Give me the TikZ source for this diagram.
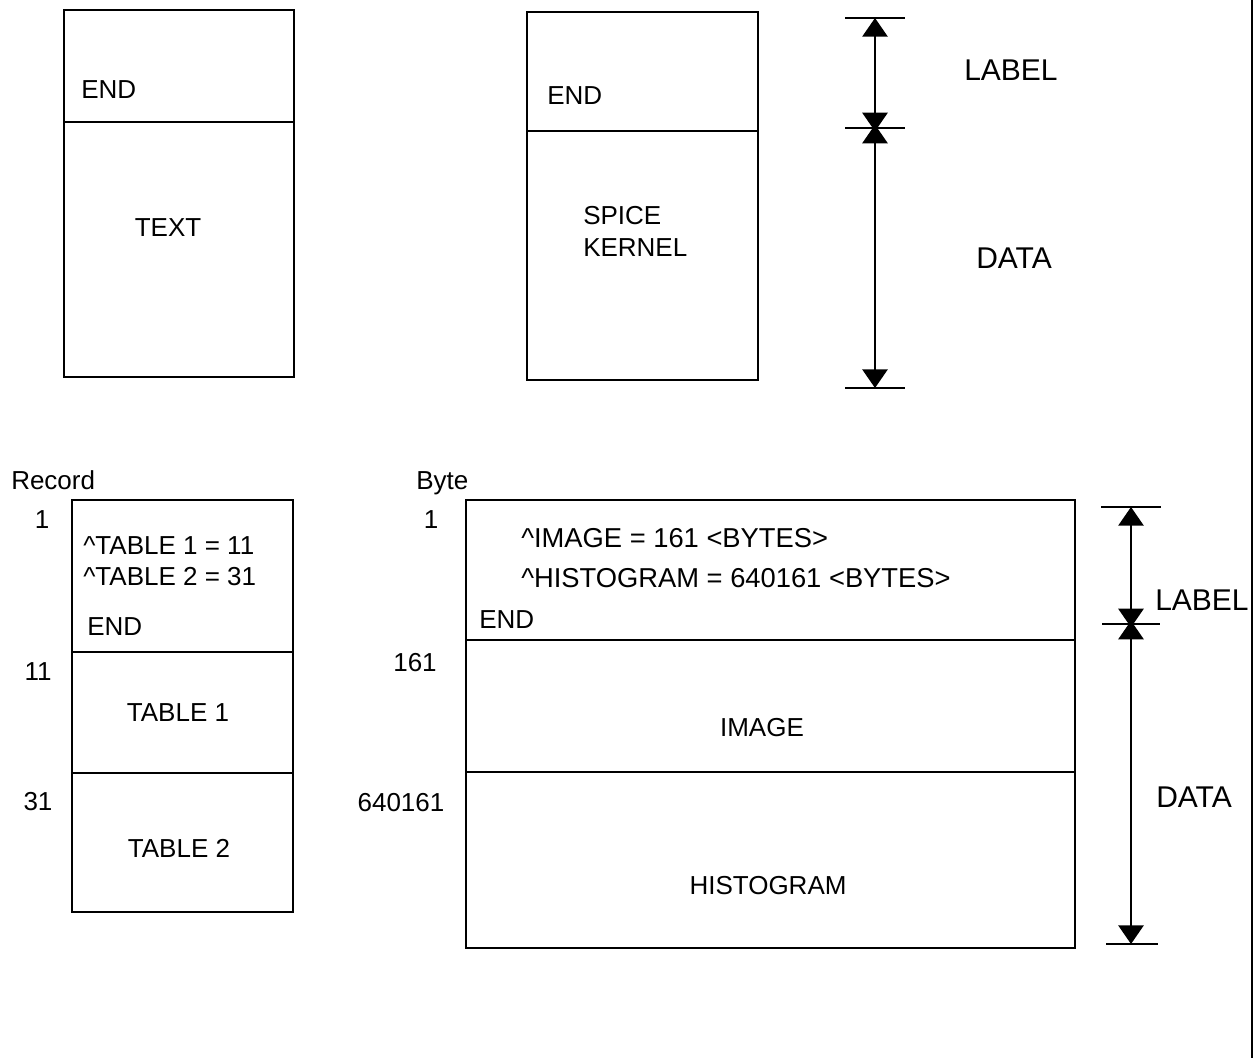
\documentclass[tikz,border=0pt]{standalone}
\usepackage{fontspec}
\setmainfont{Liberation Sans}
\usetikzlibrary{arrows.meta}

\begin{document}
\begin{tikzpicture}[x=0.75pt,y=0.75pt,yscale=-1,xscale=1,
  txt/.style={inner sep=0.75pt,font=\fontsize{19.5}{24}\selectfont},
  ptrtxt/.style={inner sep=0.75pt,font=\fontsize{20.5}{24}\selectfont},
  bigtxt/.style={inner sep=0.75pt,font=\fontsize{22.5}{26}\selectfont},
  boxline/.style={line width=1.4pt},
  tickline/.style={line width=1.2pt},
  dimarrow/.style={line width=1.3pt,{Triangle[width=19pt,length=14pt]}-{Triangle[width=19pt,length=14pt]}}]
\useasboundingbox (0,0) rectangle (1254,1058);

%Shape: Rectangle [text file]
\draw [boxline] (64,10) rectangle (294,377) ;
\draw [boxline] (64,122) -- (294,122) ;
%Shape: Rectangle [spice kernel]
\draw [boxline] (527,12) rectangle (758,380) ;
\draw [boxline] (527,131) -- (758,131) ;
%Shape: Rectangle [table file]
\draw [boxline] (72,500) rectangle (293,912) ;
\draw [boxline] (72,652) -- (293,652) ;
\draw [boxline] (72,773) -- (293,773) ;
%Shape: Rectangle [image file]
\draw [boxline] (466,500) rectangle (1075,948) ;
\draw [boxline] (466,640) -- (1075,640) ;
\draw [boxline] (466,772) -- (1075,772) ;
%Straight Lines [right margin]
\draw [line width=1.3pt] (1252,0) -- (1252,1058) ;

%Ticks and dimension arrows, top
\coordinate (tLabelTop) at (875,18);
\coordinate (tLabelBot) at (875,128);
\coordinate (tDataBot) at (875,388);
\draw [tickline] (845,18) -- (905,18) ;
\draw [tickline] (845,128) -- (905,128) ;
\draw [tickline] (845,388) -- (905,388) ;
\draw [dimarrow] (tLabelTop) -- ([yshift=2.5pt]tLabelBot) ;
\draw [dimarrow] ([yshift=-2.5pt]tLabelBot) -- (tDataBot) ;

%Ticks and dimension arrows, bottom
\coordinate (bLabelTop) at (1131,507);
\coordinate (bLabelBot) at (1131,624);
\coordinate (bDataBot) at (1131,944);
\draw [tickline] (1101,507) -- (1161,507) ;
\draw [tickline] (1102,624) -- (1160,624) ;
\draw [tickline] (1106,944) -- (1158,944) ;
\draw [dimarrow] (bLabelTop) -- ([yshift=2.5pt]bLabelBot) ;
\draw [dimarrow] ([yshift=-2.5pt]bLabelBot) -- (bDataBot) ;

% Text Node
\draw (80,90) node (endText) [anchor=west][txt] {END};
% Text Node
\draw (168,228) node (textData) [txt] {TEXT};
% Text Node
\draw (546,96) node (endSpice) [anchor=west][txt] {END};
% Text Node
\draw (582,231) node (spiceData) [anchor=west][txt][align=left] {SPICE\\KERNEL};
% Text Node
\draw (963,70) node (labelTop) [anchor=west][bigtxt] {LABEL};
% Text Node
\draw (975,258) node (dataTop) [anchor=west][bigtxt] {DATA};

% Text Node
\draw (10,480) node (recordHead) [anchor=west][txt] {Record};
% Text Node
\draw (42,520) node (recOne) [txt] {1};
% Text Node
\draw (38,672) node (recEleven) [txt] {11};
% Text Node
\draw (38,802) node (recThirtyOne) [txt] {31};
% Text Node
\draw (82,546) node (ptrTableOne) [anchor=west][txt] {\textasciicircum TABLE 1 = 11};
% Text Node
\draw (82,577) node (ptrTableTwo) [anchor=west][txt] {\textasciicircum TABLE 2 = 31};
% Text Node
\draw (86,627) node (endTable) [anchor=west][txt] {END};
% Text Node
\draw (178,713) node (tableOne) [txt] {TABLE 1};
% Text Node
\draw (179,848) node (tableTwo) [txt] {TABLE 2};

% Text Node
\draw (415,483) node (byteHead) [anchor=west][txt] {Byte};
% Text Node
\draw (431,520) node (byteOne) [txt] {1};
% Text Node
\draw (415,663) node (byteImage) [txt] {161};
% Text Node
\draw (401,803) node (byteHist) [txt] {640161};
% Text Node
\draw (520,538) node (ptrImage) [anchor=west][ptrtxt] {\textasciicircum IMAGE = 161 <BYTES>};
% Text Node
\draw (520,578) node (ptrHist) [anchor=west][ptrtxt] {\textasciicircum HISTOGRAM = 640161 <BYTES>};
% Text Node
\draw (478,620) node (endImage) [anchor=west][txt] {END};
% Text Node
\draw (762,728) node (imageData) [txt] {IMAGE};
% Text Node
\draw (768,886) node (histData) [txt] {HISTOGRAM};
% Text Node
\draw (1154,600) node (labelBot) [anchor=west][bigtxt] {LABEL};
% Text Node
\draw (1155,797) node (dataBot) [anchor=west][bigtxt] {DATA};

\end{tikzpicture}
\end{document}
